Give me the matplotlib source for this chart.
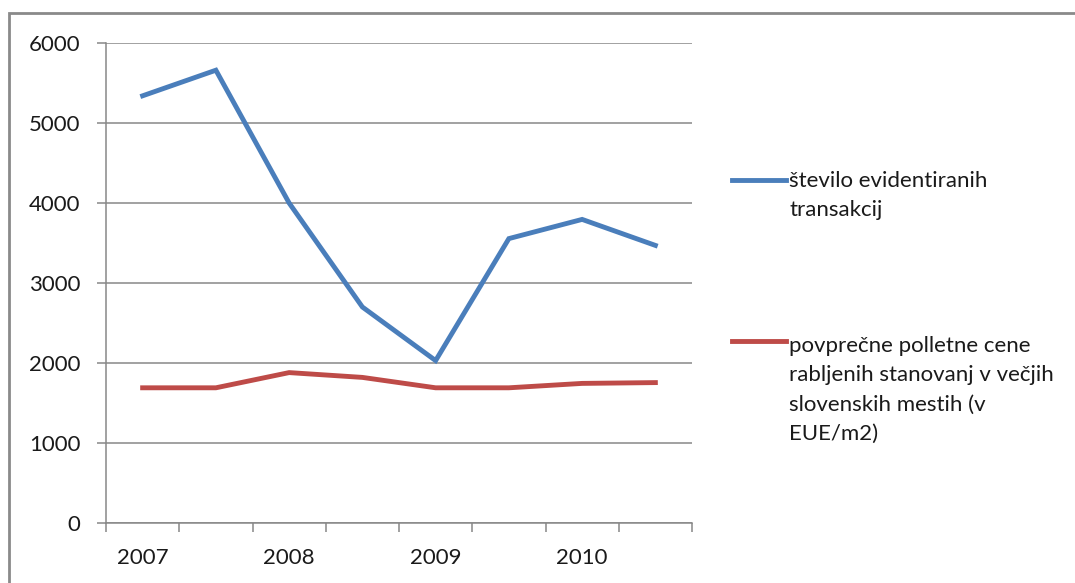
#!/usr/bin/env python3
"""Število transakcij in povprečne cene rabljenih stanovanj, 2007-2010 (polletno)."""

import matplotlib

matplotlib.use("Agg")
import matplotlib.pyplot as plt
from matplotlib.lines import Line2D
from matplotlib.patches import Rectangle

plt.rcParams["font.family"] = ["Lato", "DejaVu Sans"]

# polletni podatki: 8 točk, napis leta na vsaki drugi
periods = ["2007", "", "2008", "", "2009", "", "2010", ""]
transakcije = [5340, 5660, 4000, 2700, 2030, 3555, 3795, 3470]
cene = [1690, 1690, 1880, 1820, 1690, 1690, 1745, 1755]

label_transakcije = ["število evidentiranih", "transakcij"]
label_cene = ["povprečne polletne cene", "rabljenih stanovanj v večjih",
              "slovenskih mestih (v", "EUE/m2)"]

BLUE = "#4A7EBB"
RED = "#BE4B48"
GRID = "#878787"
TEXT = "#1a1a1a"
FS = 16

W, H = 1075, 583
fig = plt.figure(figsize=(W / 100, H / 100), dpi=100)
ax = fig.add_axes([106 / W, 1 - 523 / H, (692 - 106) / W, (523 - 43) / H])

x = list(range(len(periods)))
ax.plot(x, transakcije, color=BLUE, lw=3.5, solid_joinstyle="miter")
ax.plot(x, cene, color=RED, lw=3.5, solid_joinstyle="miter")

ax.set_xlim(-0.5, len(periods) - 0.5)
ax.set_ylim(0, 6000)
ax.set_yticks(range(0, 6001, 1000))
ax.yaxis.grid(True, color=GRID, lw=1.1)
ax.set_axisbelow(True)

# kategorijska os: oznake na sredini, kljukice na mejah
ax.set_xticks(x)
ax.set_xticklabels(periods)
ax.set_xticks([i - 0.5 for i in range(len(periods) + 1)], minor=True)
ax.tick_params(axis="x", which="major", length=0, pad=18, labelsize=FS, labelcolor=TEXT)
ax.tick_params(axis="x", which="minor", length=6.5, width=1.1, color=GRID)
ax.tick_params(axis="y", length=6.5, width=1.1, color=GRID, pad=12, labelsize=FS,
               labelcolor=TEXT)

for side in ("top", "right"):
    ax.spines[side].set_visible(False)
for side in ("left", "bottom"):
    ax.spines[side].set_color(GRID)
    ax.spines[side].set_linewidth(1.1)

# legenda ročno: ročica je poravnana s prvo vrstico besedila
LINE_STEP = 29.3
for color, lines, handle_y, base_y in ((BLUE, label_transakcije, 180, 187),
                                       (RED, label_cene, 341, 352)):
    yf = 1 - handle_y / H
    fig.add_artist(Line2D([732 / W, 786 / W], [yf, yf], color=color, lw=3.5,
                          transform=fig.transFigure))
    for i, line in enumerate(lines):
        fig.text(789 / W, 1 - (base_y + i * LINE_STEP) / H, line, ha="left",
                 va="baseline", fontsize=FS, color=TEXT)

# okvir grafikona (odrezan desno in spodaj)
fig.add_artist(Rectangle((9 / W, -0.1), 1.2, 1 - 13 / H + 0.1, fill=False,
                         edgecolor="#8a8a8a", lw=2, transform=fig.transFigure,
                         clip_on=False))

fig.savefig("out.png", dpi=100)
